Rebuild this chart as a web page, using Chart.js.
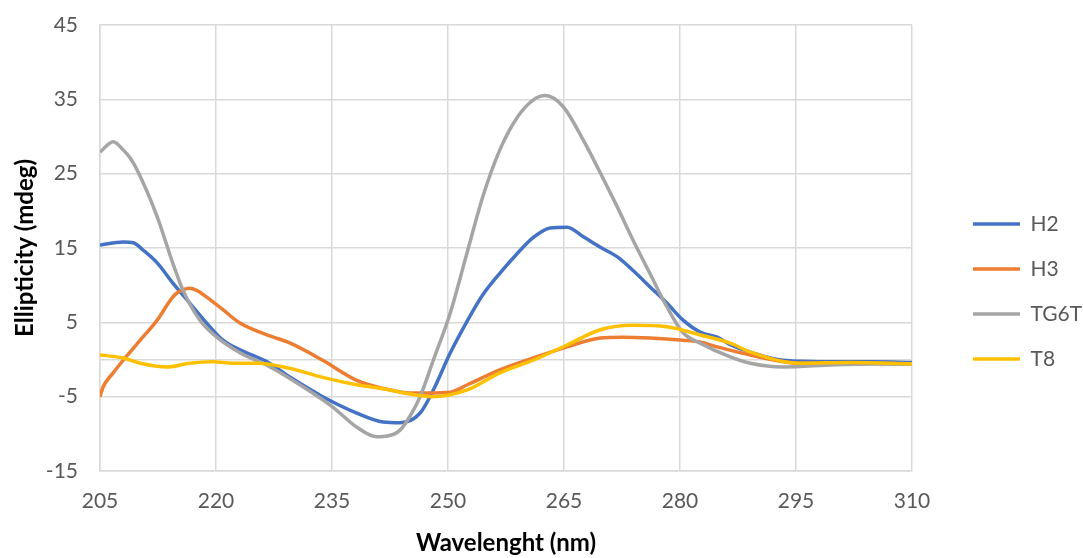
<!DOCTYPE html>
<html>
<head>
<meta charset="utf-8">
<title>CD spectra</title>
<script src="https://cdn.jsdelivr.net/npm/chart.js@4.4.0/dist/chart.umd.min.js"></script>
<style>
  body { margin: 0; background: #fff; }
  canvas { display: block; }
</style>
</head>
<body>
<canvas id="cdChart" width="1083" height="558"></canvas>
<script>
// wavelength (nm) and ellipticity (mdeg)
const h2Wl = [205, 208, 209.3, 210.6, 212.4, 214.4, 216.6, 218.8, 220.9, 223.1, 226.6, 229.6, 233.8, 238.2, 241.6, 243.8, 246.4, 248.1, 250.3, 252.5, 254.5, 256.7, 258.9, 261, 263.2, 265.4, 267.5, 269.7, 271.9, 273.9, 276.1, 278.3, 280.4, 282.6, 284.8, 286.5, 289.1, 293.3, 300, 305, 310];
const h2Val = [15.4, 15.8, 15.7, 14.7, 13.0, 10.3, 7.6, 4.9, 2.6, 1.3, -0.3, -2.4, -5.0, -7.2, -8.4, -8.5, -7.2, -4.1, 0.9, 5.2, 8.7, 11.6, 14.2, 16.4, 17.7, 17.8, 16.5, 15.1, 13.8, 12.0, 9.8, 7.6, 5.3, 3.7, 3.0, 2.0, 1.0, -0.1, -0.3, -0.3, -0.4];

const h3Wl = [205, 205.4, 206.7, 208, 210.2, 212.4, 214.4, 215.2, 216.6, 217.5, 218.8, 220.9, 223.1, 226.6, 229.6, 233.8, 238.2, 242.5, 245.1, 247.3, 250.3, 252.5, 256.7, 261, 265.4, 269.7, 272.6, 276.1, 280.4, 282.6, 284.8, 289.1, 295.5, 302, 310];
const h3Val = [-5.0, -3.7, -1.8, -0.1, 2.6, 5.3, 8.4, 9.1, 9.6, 9.3, 8.4, 6.7, 4.9, 3.3, 2.2, -0.1, -2.8, -4.1, -4.5, -4.5, -4.4, -3.4, -1.4, 0.2, 1.7, 2.9, 3.0, 2.9, 2.6, 2.35, 1.7, 0.6, -0.5, -0.5, -0.6];

const tgWl = [205, 206.7, 208, 208.9, 209.8, 212.4, 214.4, 215.7, 217.9, 220.1, 223.1, 227, 231.3, 235.1, 238.2, 240.8, 242.2, 243.8, 245.1, 246.4, 248.1, 250.3, 252.5, 254.5, 256.7, 258.9, 261, 262.6, 264.9, 267.5, 269.7, 271.9, 273.9, 276.1, 278.3, 280.4, 282.6, 286.5, 289.1, 293.3, 300, 305, 310];
const tgVal = [27.9, 29.3, 28.2, 27.1, 25.5, 19.2, 13.0, 9.4, 5.3, 3.0, 0.9, -1.0, -3.7, -6.4, -9.1, -10.4, -10.3, -9.5, -7.6, -5.0, -0.1, 6.3, 14.5, 21.9, 28.2, 32.5, 34.9, 35.5, 34.0, 29.5, 25.1, 20.5, 16.1, 11.6, 7.1, 3.6, 2.2, 0.35, -0.5, -1.0, -0.7, -0.6, -0.6];

const t8Wl = [205, 208, 210.2, 213.7, 216.6, 219.6, 222.2, 225.3, 229.6, 233.8, 238.2, 242.5, 243.8, 248.1, 252.5, 256.7, 261, 265.4, 269.7, 273.9, 278.3, 282.6, 286.5, 289.1, 295.5, 302, 310];
const t8Val = [0.6, 0.2, -0.5, -1.0, -0.5, -0.3, -0.5, -0.5, -1.2, -2.4, -3.4, -4.1, -4.4, -5.0, -4.1, -1.8, -0.1, 1.95, 4.0, 4.6, 4.4, 3.3, 2.2, 1.0, -0.5, -0.4, -0.6];

const seriesNames = ["H2", "H3", "TG6T", "T8"];
const seriesColors = ["#4472C4", "#ED7D31", "#A5A5A5", "#FFC000"];

const xTicks = [205, 220, 235, 250, 265, 280, 295, 310];
const yTicks = [-15, -5, 5, 15, 25, 35, 45];

const gridColor = "#d9d9d9";
const textColor = "#595959";

function toPoints(xs, ys) {
  return xs.map((x, i) => ({ x: x, y: ys[i] }));
}

const allWl = [h2Wl, h3Wl, tgWl, t8Wl];
const allVal = [h2Val, h3Val, tgVal, t8Val];

const datasets = seriesNames.map((name, i) => ({
  label: name,
  data: toPoints(allWl[i], allVal[i]),
  borderColor: seriesColors[i],
  backgroundColor: seriesColors[i],
  borderWidth: 3.5,
  pointRadius: 0,
  cubicInterpolationMode: "monotone",
  order: seriesNames.length - i   // last series on top, like excel
}));

new Chart(document.getElementById("cdChart"), {
  type: "line",
  data: { datasets: datasets },
  options: {
    responsive: false,
    animation: false,
    layout: { padding: { top: 25, left: 6, right: 0, bottom: 0 } },
    plugins: {
      tooltip: { enabled: false },
      legend: {
        position: "right",
        maxWidth: 134,
        labels: {
          usePointStyle: true,
          pointStyle: "line",
          pointStyleWidth: 47,
          padding: 24,
          color: textColor,
          font: { family: "Lato", size: 21 },
          sort: (a, b) => a.datasetIndex - b.datasetIndex
        }
      }
    },
    scales: {
      x: {
        type: "linear",
        min: xTicks[0],
        max: xTicks[xTicks.length - 1],
        afterBuildTicks: s => { s.ticks = xTicks.map(v => ({ value: v })); },
        afterFit: s => { s.height = 87; },
        grid: { color: gridColor, lineWidth: 1.5, drawTicks: false },
        border: { color: gridColor, width: 1.5 },
        ticks: { padding: 18, color: textColor, font: { family: "Lato", size: 21 } },
        title: {
          display: true,
          text: "Wavelenght (nm)",
          color: "#000",
          font: { family: "Lato", size: 24, weight: "bold" },
          padding: { top: 15, bottom: 0 }
        }
      },
      y: {
        min: yTicks[0],
        max: yTicks[yTicks.length - 1],
        // tick list plus the zero line excel draws for the category axis
        afterBuildTicks: s => {
          s.ticks = yTicks.concat([0]).sort((a, b) => a - b).map(v => ({ value: v }));
        },
        afterFit: s => {
          s.width = 94;
          s.paddingTop = 0;
          s.paddingBottom = 0;
        },
        grid: { color: gridColor, lineWidth: 1.5, drawTicks: false },
        border: { color: gridColor, width: 1.5 },
        ticks: {
          padding: 22,
          color: textColor,
          font: { family: "Lato", size: 21 },
          callback: v => (v === 0 ? "" : v)
        },
        title: {
          display: true,
          text: "Ellipticity (mdeg)",
          color: "#000",
          font: { family: "Lato", size: 24, weight: "bold" },
          padding: { top: 5, bottom: 10 }
        }
      },
      // empty axis, only keeps the gap between plot and legend
      gap: {
        position: "right",
        display: true,
        grid: { display: false },
        border: { display: false },
        ticks: { display: false },
        afterFit: s => {
          s.width = 37;
          s.paddingTop = 0;
          s.paddingBottom = 0;
        }
      }
    }
  }
});
</script>
</body>
</html>
